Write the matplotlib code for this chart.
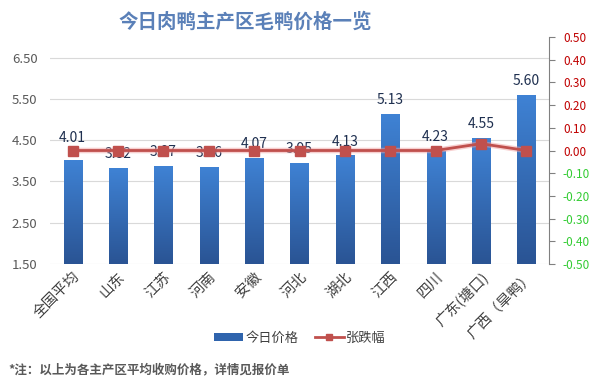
import numpy as np
import matplotlib
matplotlib.use('Agg')
from matplotlib import pyplot as plt
from matplotlib.lines import Line2D
from matplotlib.patches import Patch

plt.rcParams['font.family'] = ['Noto Sans CJK SC', 'DejaVu Sans']

regions = ['全国平均', '山东', '江苏', '河南', '安徽', '河北', '湖北', '江西', '四川', '广东(塘口)', '广西（旱鸭）']
prices = [4.01, 3.82, 3.87, 3.86, 4.07, 3.95, 4.13, 5.13, 4.23, 4.55, 5.60]
changes = [0.00, 0.00, 0.00, 0.00, 0.00, 0.00, 0.00, 0.00, 0.00, 0.03, 0.00]
left_ticks = [1.5, 2.5, 3.5, 4.5, 5.5, 6.5]
right_ticks = [-0.5, -0.4, -0.3, -0.2, -0.1, 0.0, 0.1, 0.2, 0.3, 0.4, 0.5]

fig = plt.figure(figsize=(5.9, 3.88), dpi=100)
ax = fig.add_axes([50 / 590, 1 - 264 / 388, 499 / 590, 227 / 388])
x = np.arange(len(regions))

# bars with a vertical gradient
bars = ax.bar(x, prices, width=0.4, bottom=0, color='none', zorder=2)
grad = np.linspace(0, 1, 100).reshape(-1, 1)
cmap = matplotlib.colors.LinearSegmentedColormap.from_list('b', ['#2a5494', '#3f82d4'])
for b in bars:
    x0, w, h = b.get_x(), b.get_width(), b.get_height()
    im = ax.imshow(grad, cmap=cmap, extent=(x0, x0 + w, 1.5, h), origin='lower',
                   aspect='auto', zorder=2)
    im.set_clip_path(b)

for i, (xi, p) in enumerate(zip(x, prices)):
    off = 11 if i == 0 else 5
    ax.annotate(f'{p:.2f}', (xi, p), xytext=(0, off), textcoords='offset points',
                ha='center', va='bottom', fontsize=10, color='#1f3050', zorder=5)

ax.set_xlim(-0.5, len(regions) - 0.5)
ax.set_ylim(1.5, 7.0)
ax.set_yticks(left_ticks)
ax.set_yticklabels([f'{t:.2f}' for t in left_ticks], fontsize=9.5, color='#595959')
ax.yaxis.grid(True, color='#d9d9d9', linewidth=0.8, zorder=0)
ax.set_axisbelow(True)
ax.tick_params(axis='y', length=0, pad=9)
ax.tick_params(axis='x', length=0, pad=4)
ax.set_xticks(x)
ax.set_xticklabels(regions, rotation=45, ha='right', rotation_mode='anchor',
                   fontsize=10.5, color='#404040')
for s in ax.spines.values():
    s.set_visible(False)

ax2 = ax.twinx()
ax2.plot(x, changes, color='#f0a0a0', linewidth=4, alpha=0.5, zorder=3)
ax2.plot(x, changes, color='#c0504d', linewidth=2, marker='s', markersize=7,
         markerfacecolor='#c0504d', markeredgecolor='#c0504d', zorder=4)
ax2.set_ylim(-0.5, 0.5)
ax2.set_yticks(right_ticks)
ax2.set_yticklabels([f'{abs(t):.2f}' if t == 0 else f'{t:.2f}' for t in right_ticks], fontsize=8.5)
for lab, t in zip(ax2.get_yticklabels(), right_ticks):
    lab.set_color('#c00000' if t >= 0 else '#33cc33')
ax2.tick_params(axis='y', direction='out', length=4, color='#808080', pad=6)
for k, s in ax2.spines.items():
    s.set_visible(k == 'right')
ax2.spines['right'].set_color('#808080')

fig.text(245 / 590, 1 - 22 / 388, '今日肉鸭主产区毛鸭价格一览', ha='center', va='center',
         fontsize=14, fontweight='bold', color='#5a80b8')

handles = [Patch(facecolor='#2f64ad', edgecolor='none'),
           Line2D([], [], color='#c0504d', linewidth=2, marker='s', markersize=5)]
fig.legend(handles, ['今日价格', '张跌幅'], loc='center', bbox_to_anchor=(300 / 590, 1 - 338 / 388),
           ncol=2, frameon=False, fontsize=9.5, handlelength=2.2, handleheight=0.6,
           columnspacing=1.2, handletextpad=0.2, labelcolor='#404040')

fig.text(8 / 590, 1 - 370 / 388, '*注：以上为各主产区平均收购价格，详情见报价单', ha='left', va='center',
         fontsize=9, fontweight='bold', color='#595959')

fig.savefig('out.png', dpi=100)
